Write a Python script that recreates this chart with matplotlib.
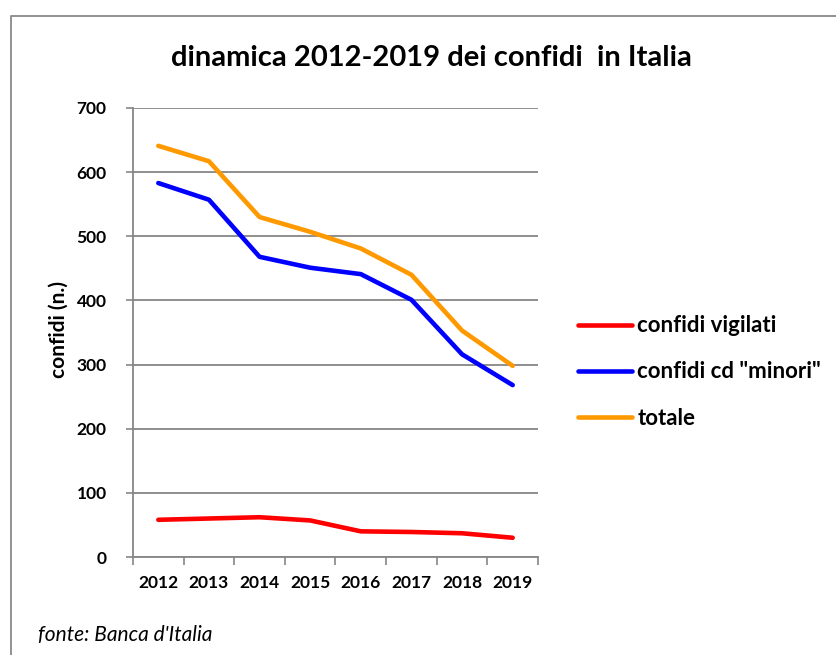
import matplotlib
matplotlib.use("Agg")
import matplotlib.pyplot as plt
from matplotlib.lines import Line2D
import numpy as np

plt.rcParams['font.family'] = ['Lato', 'DejaVu Sans']

years = ["2012", "2013", "2014", "2015", "2016", "2017", "2018", "2019"]
vigilati = [58, 60, 62, 57, 40, 39, 37, 30]
minori = [583, 557, 468, 451, 441, 401, 316, 268]
totale = [641, 617, 530, 507, 481, 440, 353, 298]
series_names = ["confidi vigilati", 'confidi cd "minori"', "totale"]
colors = ["#FF0000", "#0000FF", "#FF9900"]
yticks = [0, 100, 200, 300, 400, 500, 600, 700]

W, H = 837, 655
fig = plt.figure(figsize=(W / 100, H / 100), dpi=100)
ax = fig.add_axes([133 / W, 1 - 557 / H, (538 - 133) / W, (557 - 108) / H])

x = np.arange(len(years))
grid_c = "#868686"
handles = []
for vals, name, c in zip([vigilati, minori, totale], series_names, colors):
    h, = ax.plot(x, vals, color=c, lw=3.3, solid_capstyle='round',
                 solid_joinstyle='round', label=name, zorder=3)
    handles.append(h)

ax.set_xlim(-0.5, len(years) - 0.5)
ax.set_ylim(0, 700)
ax.set_yticks(yticks)
ax.set_yticklabels([str(v) for v in yticks], fontsize=12.5, fontweight='bold')
ax.set_xticks(x)
ax.set_xticklabels(years, fontsize=12.5, fontweight='bold')
ax.set_xticks(np.arange(-0.5, len(years)), minor=True)
ax.tick_params(axis='x', which='major', length=0, pad=13)
ax.tick_params(axis='x', which='minor', length=6, width=1.2, color=grid_c, direction='out')
ax.tick_params(axis='y', length=5, width=1.2, color=grid_c, pad=14)
ax.yaxis.grid(True, color=grid_c, lw=1.3)
ax.set_axisbelow(True)
for s in ['top', 'right']:
    ax.spines[s].set_visible(False)
for s in ['left', 'bottom']:
    ax.spines[s].set_color(grid_c)
    ax.spines[s].set_linewidth(1.3)

fig.text(59 / W, 1 - 329 / H, "confidi (n.)", rotation=90, ha='center', va='center',
         fontsize=15, fontweight='bold')

fig.text(431 / W, 1 - 58 / H, "dinamica 2012-2019 dei confidi  in Italia",
         ha='center', va='center', fontsize=21, fontweight='bold')

leg = fig.legend(handles=handles, labels=series_names, loc='center left',
                 bbox_to_anchor=(578 / W, 1 - 372 / H), frameon=False,
                 prop={'size': 16, 'weight': 'bold'}, handlelength=2.45,
                 handletextpad=0.22, labelspacing=1.13, borderpad=0,
                 borderaxespad=0)

fig.text(38 / W, 1 - 635 / H, "fonte: Banca d'Italia", ha='left', va='center',
         fontsize=15, fontstyle='italic')

border_c = "#898989"
fig.add_artist(Line2D([11 / W, 11 / W, 1.0], [0.0, 1 - 16 / H, 1 - 16 / H],
                      transform=fig.transFigure, color=border_c, lw=1.3))

fig.savefig("out.png", dpi=100)
